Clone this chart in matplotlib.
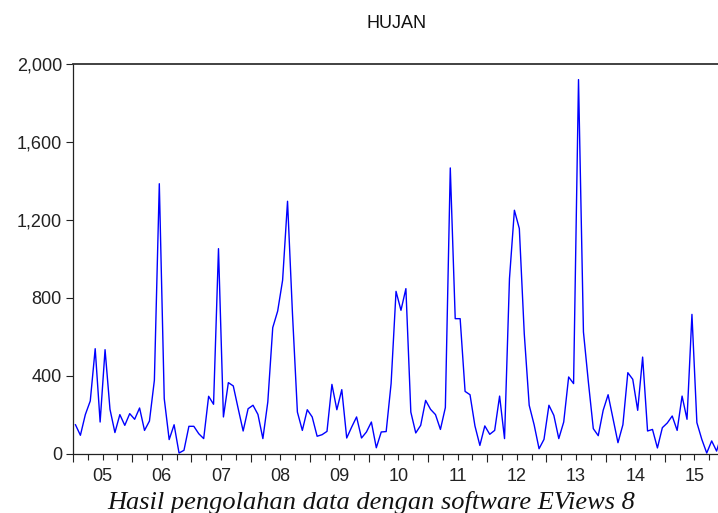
import numpy as np
import matplotlib
matplotlib.use('Agg')
import matplotlib.pyplot as plt

# monthly rainfall (HUJAN), Jan 2005 - Dec 2015
years = ['05', '06', '07', '08', '09', '10', '11', '12', '13', '14', '15']
hujan = [
    150, 96, 202, 272, 540, 164, 535, 229, 110, 202, 147, 207,      # 2005
    178, 236, 121, 169, 378, 1386, 284, 74, 150, 5, 19, 142,        # 2006
    142, 104, 79, 296, 255, 1053, 190, 366, 349, 232, 118, 232,     # 2007
    250, 203, 79, 267, 648, 733, 891, 1296, 720, 215, 121, 227,     # 2008
    190, 91, 99, 116, 357, 227, 330, 82, 138, 190, 82, 113,         # 2009
    164, 32, 113, 115, 361, 834, 737, 848, 215, 108, 147, 275,      # 2010
    229, 202, 126, 238, 1467, 694, 694, 321, 304, 144, 44, 144,     # 2011
    101, 121, 297, 79, 899, 1250, 1156, 617, 250, 150, 27, 75,      # 2012
    250, 198, 79, 164, 395, 361, 1920, 626, 369, 130, 94, 224,      # 2013
    304, 181, 58, 150, 417, 383, 224, 497, 118, 126, 31, 135,       # 2014
    159, 195, 121, 297, 178, 716, 161, 75, 5, 67, 15, 100,          # 2015
]
yticks = [0, 400, 800, 1200, 1600, 2000]

plt.rcParams['font.family'] = ['Liberation Sans', 'DejaVu Sans']

fig = plt.figure(figsize=(7.18, 5.13), dpi=100)
# axes runs past the right edge of the image, like the cropped original
ax = fig.add_axes([73 / 718, 59 / 513, 651 / 718, 390 / 513])

x = np.arange(len(hujan))
ax.plot(x, hujan, color='#0000ff', lw=1.0)

ax.set_xlim(-0.5, len(hujan) - 0.5)
ax.set_ylim(0, 2000)

ax.set_yticks(yticks)
ax.set_yticklabels([f'{v:,}' for v in yticks])

n_years = len(years)
ax.set_xticks([12 * k - 0.5 for k in range(n_years + 1)])
ax.set_xticklabels([''] * (n_years + 1))
minor_pos, minor_lab = [], []
for k, yr in enumerate(years):
    for m in (3, 6, 9):
        minor_pos.append(12 * k + m - 0.5)
        minor_lab.append(yr if m == 6 else '')
ax.set_xticks(minor_pos, minor=True)
ax.set_xticklabels(minor_lab, minor=True)

ax.tick_params(axis='y', direction='out', length=5, width=0.8, pad=3,
               labelsize=13, colors='#222222')
ax.tick_params(axis='x', which='major', direction='out', length=6,
               width=0.8, labelsize=13, colors='#222222')
ax.tick_params(axis='x', which='minor', direction='out', length=4.3,
               width=0.8, pad=6, labelsize=13, colors='#222222')

for s in ['left', 'bottom']:
    ax.spines[s].set_color('#222222')
    ax.spines[s].set_linewidth(0.9)
ax.spines['top'].set_color('#333333')
ax.spines['top'].set_linewidth(1.3)
ax.spines['right'].set_visible(False)

fig.text(397 / 718, 1 - 24 / 513, 'HUJAN', ha='center', va='center',
         fontsize=13, color='#111111')

fig.text(371 / 718, 1 - 509 / 513, 'Hasil pengolahan data dengan software EViews 8',
         ha='center', va='baseline', fontsize=19, style='italic',
         family=['Liberation Serif', 'DejaVu Serif'], color='#111111')

fig.savefig('out.png', dpi=100)
